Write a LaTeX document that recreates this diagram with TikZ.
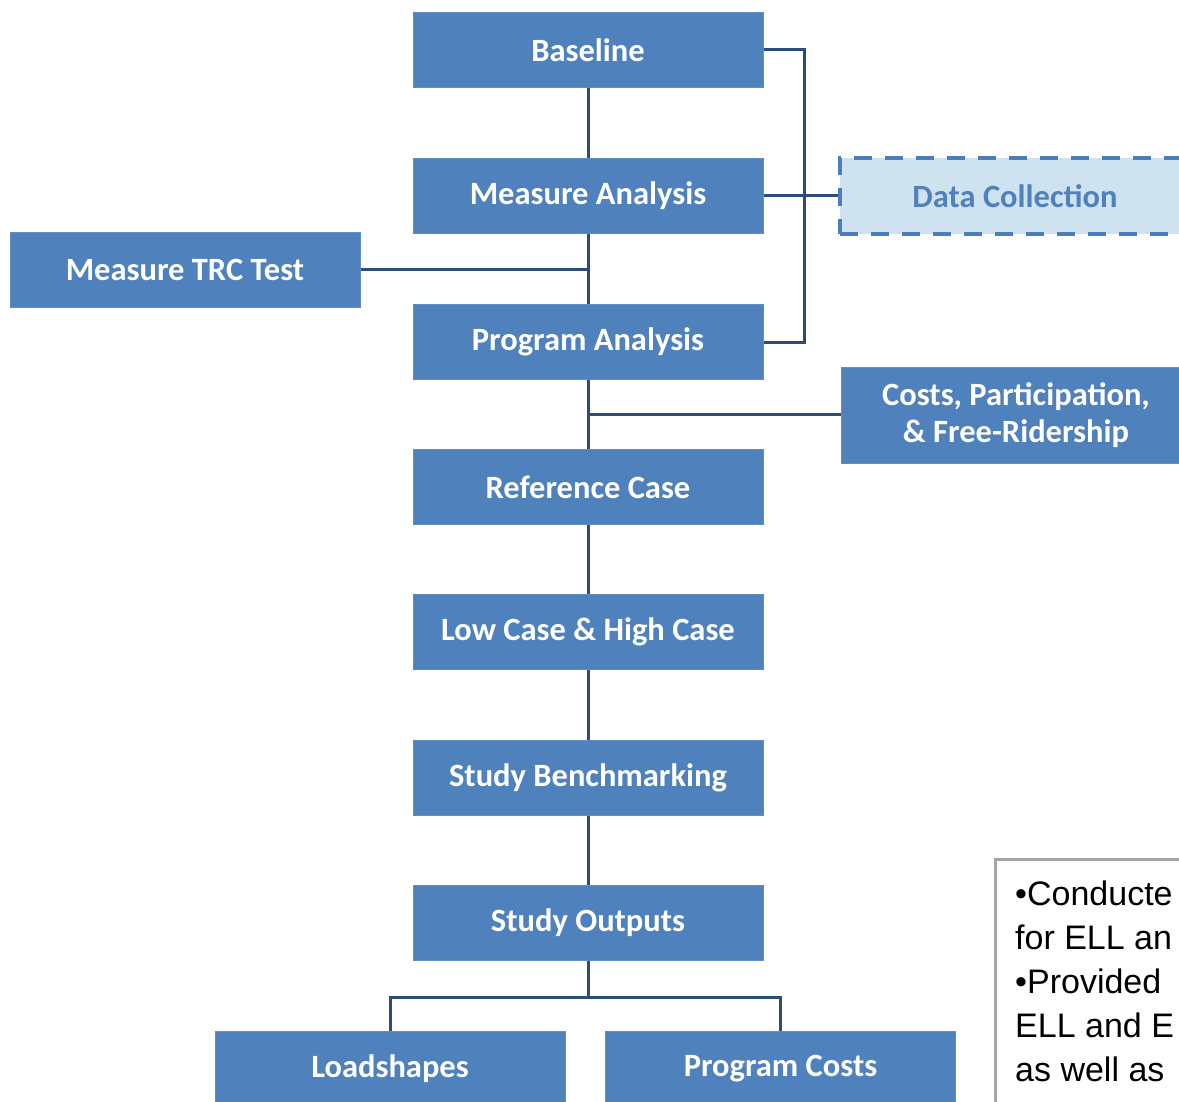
\documentclass[tikz,border=0pt]{standalone}
\usepackage{fontspec}
\newfontfamily\carlito{Carlito}
\newfontfamily\arialf{Liberation Sans}
\definecolor{boxblue}{RGB}{79,129,189}
\definecolor{boxedge}{RGB}{95,142,198}
\definecolor{linecol}{RGB}{44,77,124}
\definecolor{dcfill}{RGB}{207,226,240}
\definecolor{dcedge}{RGB}{74,126,187}
\definecolor{tbedge}{RGB}{165,165,165}
\begin{document}
\begin{tikzpicture}[x=1pt,y=1pt,
  flowbox/.style={draw=boxedge, line width=1pt, fill=boxblue, text=white,
    font=\carlito\bfseries\fontsize{32.5}{37}\selectfont,
    minimum width=350, minimum height=75, inner sep=0pt, align=center},
  conn/.style={draw=linecol, line width=3pt, line join=miter},
  dcbox/.style={draw=dcedge, line width=3.2pt, fill=dcfill, text=boxblue,
    dash pattern=on 18pt off 13pt,
    font=\carlito\bfseries\fontsize{32.5}{37}\selectfont,
    minimum width=350, minimum height=76, inner sep=0pt},
  tline/.style={anchor=base west, inner sep=0pt, font=\arialf\fontsize{34}{44}\selectfont}
]
\useasboundingbox (0,0) rectangle (1179,-1102);
\clip (0,0) rectangle (1179,-1102);
\fill[white] (0,0) rectangle (1179,-1102);

\node[flowbox] (base) at (588,-50) {Baseline};
\node[flowbox] (ma) at (588,-196) {Measure Analysis};
\node[flowbox] (trc) at (185,-270) {Measure TRC Test};
\node[flowbox] (pa) at (588,-342) {Program Analysis};
\node[flowbox, minimum height=96] (costs) at (1016,-415) {Costs, Participation,\\\& Free-Ridership};
\node[flowbox] (ref) at (588,-487) {Reference Case};
\node[flowbox] (low) at (588,-632) {Low Case \& High Case};
\node[flowbox] (bench) at (588,-778) {Study Benchmarking};
\node[flowbox] (out) at (588,-923) {Study Outputs};
\node[flowbox] (ls) at (390,-1069) {Loadshapes};
\node[flowbox] (pc) at (780.5,-1069) {Program Costs};
\node[dcbox] (dc) at (1015,-196) {Data Collection};

% connectors
\draw[conn] (base.south) -- (ma.north);
\draw[conn] (ma.south) -- (pa.north);
\draw[conn] (trc.east) -- (trc.east -| ma.south);
\draw[conn] (pa.south) -- (ref.north);
\coordinate (cj) at (588,-414);
\draw[conn] (cj) -- (cj -| costs.west);
\draw[conn] (base.east) -- ++(41,0) |- (pa.east);
\draw[conn] (ma.east) -- (ma.east -| dc.west);
\draw[conn] (ref.south) -- (low.north);
\draw[conn] (low.south) -- (bench.north);
\draw[conn] (bench.south) -- (out.north);
\draw[conn] (out.south) -- ++(0,-36) coordinate (oj);
\draw[conn] (ls.north) |- (oj) -| (pc.north);

% text box
\node[draw=tbedge, line width=3pt, fill=white, anchor=north west,
  minimum width=320, minimum height=300, inner sep=0pt] (tb) at (994,-858) {};
\node[tline] (t1) at (1015,-905) {•Conducte};
\node[tline] (t2) at (1015,-949) {for ELL an};
\node[tline] (t3) at (1015,-993) {•Provided};
\node[tline] (t4) at (1015,-1037) {ELL and E};
\node[tline] (t5) at (1015,-1081) {as well as};
\end{tikzpicture}
\end{document}
